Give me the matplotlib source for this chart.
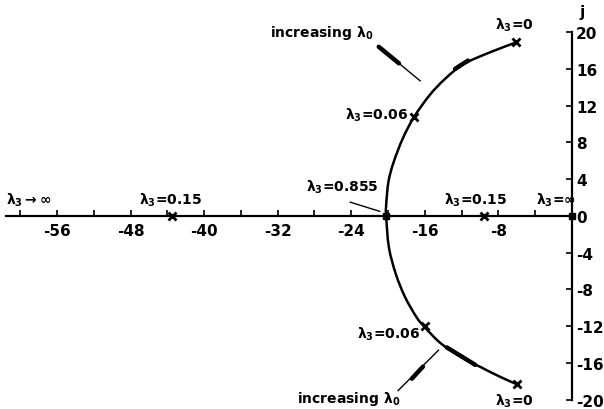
import matplotlib.pyplot as plt
from matplotlib.ticker import FixedLocator
from matplotlib.path import Path
from matplotlib.patches import PathPatch

plt.rcParams['axes.unicode_minus'] = False
plt.rcParams['font.family'] = 'DejaVu Sans'
plt.rcParams['mathtext.fontset'] = 'dejavusans'
plt.rcParams['mathtext.default'] = 'bf'

# root locus branch (real, imaginary), from top to bottom
arc_re = [-6.0, -8.9, -11.8, -13.8, -15.5, -17.2, -18.4, -19.4, -19.95, -20.2, -20.2,
          -19.9, -19.15, -18.15, -16.9, -16.0, -14.2, -11.9, -10.0, -7.8, -6.0]
arc_im = [18.9, 17.8, 16.5, 14.9, 13.1, 10.7, 8.4, 5.8, 3.7, 1.1, 0.0,
          -3.4, -6.3, -8.8, -11.0, -12.1, -13.9, -15.4, -16.4, -17.5, -18.3]

# roots marked for particular lambda3 values
mark_re = [-6.1, -17.2, -16.0, -6.0, -43.5, -9.5]
mark_im = [18.9, 10.8, -12.0, -18.3, 0.0, 0.0]

# break-in point and origin
dot_re = [-20.2, 0.0]
dot_im = [0.0, 0.0]

x_ticks = [-56, -48, -40, -32, -24, -16, -8]
y_ticks = [20, 16, 12, 8, 4, 0, -4, -8, -12, -16, -20]

labels = [r'$\lambda_3$$\rightarrow$$\infty$', r'$\lambda_3$=0.15', r'$\lambda_3$=0.855',
          r'$\lambda_3$=0.15', r'$\lambda_3$=$\infty$', r'$\lambda_3$=0',
          r'$\lambda_3$=0.06', r'$\lambda_3$=0.06', r'$\lambda_3$=0']
label_x = [-61.6, -43.7, -25.0, -10.5, -1.7, -6.2, -17.8, -16.5, -6.3]
label_y = [1.8, 1.8, 3.2, 1.8, 1.8, 20.8, 11.1, -12.8, -20.0]
label_ha = ['left', 'center', 'center', 'center', 'center',
            'center', 'right', 'right', 'center']

# leader lines for "increasing lambda0" and the 0.855 label
lead_x = [[-21.1, -16.5], [-14.5, -18.9], [-24.1, -20.9]]
lead_y = [[18.5, 14.7], [-14.6, -19.0], [1.5, 0.5]]
# thick arrow bodies along the leaders and on the locus
thick_x = [[-21.0, -18.8], [-16.2, -17.4], [-12.7, -11.3], [-13.6, -10.5]]
thick_y = [[18.4, 16.6], [-16.4, -17.7], [16.0, 16.9], [-14.3, -16.2]]


def smooth_path(xs, ys):
    # pass a cubic Bezier through every point (Catmull-Rom tangents)
    pts = list(zip(xs, ys))
    verts = [pts[0]]
    codes = [Path.MOVETO]
    for i in range(len(pts) - 1):
        p0 = pts[i - 1] if i > 0 else pts[i]
        p1, p2 = pts[i], pts[i + 1]
        p3 = pts[i + 2] if i + 2 < len(pts) else pts[i + 1]
        c1 = (p1[0] + (p2[0] - p0[0]) / 6, p1[1] + (p2[1] - p0[1]) / 6)
        c2 = (p2[0] - (p3[0] - p1[0]) / 6, p2[1] - (p3[1] - p1[1]) / 6)
        verts += [c1, c2, p2]
        codes += [Path.CURVE4] * 3
    return Path(verts, codes)


fig = plt.figure(figsize=(6.04, 4.10), dpi=100)
ax = fig.add_axes([0, 0, 1, 1])
ax.set_xlim(-62.2, 3.5)
ax.set_ylim(-21.0, 23.6)

for s in ['top', 'left']:
    ax.spines[s].set_visible(False)
ax.spines['bottom'].set_position(('data', 0))
ax.spines['bottom'].set_bounds(-61.6, 0)
ax.spines['right'].set_position(('data', 0))
ax.spines['right'].set_bounds(-20, 20)
for s in ['bottom', 'right']:
    ax.spines[s].set_linewidth(1.6)

ax.xaxis.set_major_locator(FixedLocator(x_ticks))
ax.xaxis.set_minor_locator(FixedLocator(list(range(-60, 0, 4))))
ax.yaxis.set_major_locator(FixedLocator(y_ticks))
ax.yaxis.tick_right()
ax.tick_params(axis='x', which='both', direction='in', length=4, width=1.2, pad=5)
ax.tick_params(axis='y', which='both', direction='in', length=4, width=1.2, pad=3,
               left=False, right=True)
for t in ax.get_xticklabels() + ax.get_yticklabels():
    t.set_fontsize(11)
    t.set_fontweight('bold')

ax.add_patch(PathPatch(smooth_path(arc_re, arc_im), fill=False,
                       edgecolor='black', lw=1.8))
ax.plot(mark_re, mark_im, 'x', color='black', ms=6, mew=2)
ax.plot(dot_re, dot_im, 's', color='black', ms=5)

for lx, ly in zip(lead_x, lead_y):
    ax.plot(lx, ly, color='black', lw=1.0)
for tx, ty in zip(thick_x, thick_y):
    ax.plot(tx, ty, color='black', lw=3.2, solid_capstyle='round')

for txt, x, y, ha in zip(labels, label_x, label_y, label_ha):
    ax.text(x, y, txt, ha=ha, va='center', fontsize=10, fontweight='bold')

ax.text(-21.6, 20.0, r'increasing $\lambda_0$', ha='right', va='center',
        fontsize=10, fontweight='bold')
ax.text(-18.6, -19.8, r'increasing $\lambda_0$', ha='right', va='center',
        fontsize=10, fontweight='bold')
ax.text(1.1, 21.4, 'j', ha='center', va='bottom', fontsize=11, fontweight='bold')

plt.savefig('out.png', dpi=100)
